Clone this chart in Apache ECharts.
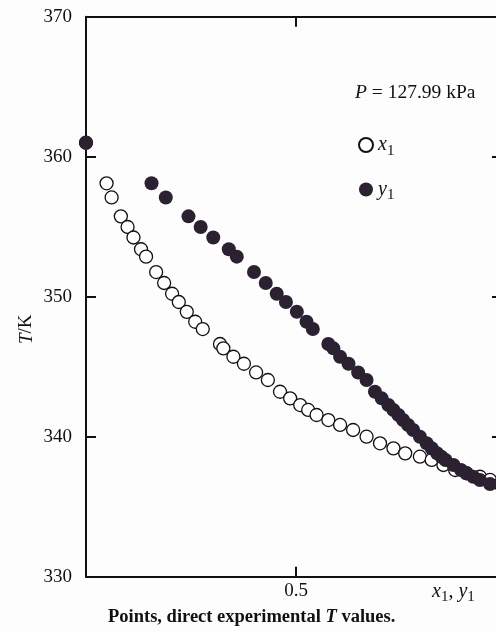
<!DOCTYPE html>
<html>
<head>
<meta charset="utf-8">
<script src="https://cdn.jsdelivr.net/npm/echarts@6/dist/echarts.min.js"></script>
<style>html,body{margin:0;padding:0;background:#fdfdfd;}#c{width:496px;height:631px;}</style>
</head>
<body>
<div id="c"></div>
<script>
// Temperatures (K) of each experiment; x1 liquid, y1 vapour mole fractions
const T = [361.0, 358.10, 357.09, 355.74, 354.98, 354.23, 353.39, 352.86, 351.76, 350.98, 350.21,
  349.62, 348.92, 348.21, 347.69, 346.62, 346.31, 345.71, 345.21, 344.59, 344.05,
  343.21, 342.74, 342.26, 341.91, 341.55, 341.19, 340.84, 340.48, 340.00, 339.53,
  339.17, 338.81, 338.57, 338.34, 337.98, 337.62, 337.39, 337.14, 336.91, 336.62];
const x1 = [0.0, 0.049, 0.061, 0.083, 0.099, 0.113, 0.131, 0.143, 0.167, 0.186, 0.205,
  0.221, 0.240, 0.260, 0.278, 0.319, 0.327, 0.351, 0.376, 0.405, 0.433,
  0.462, 0.486, 0.510, 0.529, 0.549, 0.577, 0.605, 0.636, 0.668, 0.700,
  0.732, 0.760, 0.795, 0.823, 0.851, 0.879, 0.906, 0.938, 0.962, 0.986];
const y1 = [0.0, 0.156, 0.190, 0.244, 0.273, 0.303, 0.340, 0.359, 0.400, 0.428, 0.454,
  0.476, 0.502, 0.525, 0.540, 0.577, 0.589, 0.605, 0.625, 0.648, 0.668,
  0.688, 0.704, 0.720, 0.732, 0.744, 0.755, 0.767, 0.779, 0.795, 0.811,
  0.823, 0.836, 0.846, 0.856, 0.875, 0.893, 0.906, 0.922, 0.938, 0.962];
const yTicks = [330, 340, 350, 360, 370];
const xTickLabels = {0.5: '0.5'};

const serif = '"Liberation Serif", "DejaVu Serif", serif';
const chart = echarts.init(document.getElementById('c'), null, {renderer: 'canvas'});
const axisLine = {show: true, onZero: false, lineStyle: {color: '#111', width: 2}};
const tickStyle = {show: true, inside: true, length: 10, lineStyle: {color: '#111', width: 2}};
chart.setOption({
  backgroundColor: '#fdfdfd',
  animation: false,
  grid: {left: 86, top: 16.7, width: 420, height: 560, containLabel: false, outerBoundsMode: 'none'},
  xAxis: [{
    type: 'value', min: 0, max: 1, interval: 0.5, position: 'bottom',
    axisLine: axisLine, axisTick: tickStyle, splitLine: {show: false},
    axisLabel: {margin: 5, color: '#111', fontFamily: serif, fontSize: 19,
      formatter: v => xTickLabels[v] || ''}
  }, {
    type: 'value', min: 0, max: 1, interval: 0.5, position: 'top',
    axisLine: axisLine, axisTick: tickStyle, splitLine: {show: false},
    axisLabel: {show: false}
  }],
  yAxis: [{
    type: 'value', min: yTicks[0], max: yTicks[yTicks.length - 1], interval: 10, position: 'left',
    axisLine: axisLine, axisTick: tickStyle, splitLine: {show: false},
    axisLabel: {margin: 14, color: '#111', fontFamily: serif, fontSize: 19}
  }, {
    type: 'value', min: yTicks[0], max: yTicks[yTicks.length - 1], interval: 10, position: 'right',
    axisLine: axisLine, axisTick: Object.assign({}, tickStyle, {length: 14}), splitLine: {show: false},
    axisLabel: {show: false}
  }],
  legend: {
    orient: 'vertical', left: 353, top: 130, itemGap: 21, itemWidth: 14, itemHeight: 14,
    icon: 'circle',
    data: ['x1', 'y1'],
    formatter: n => '{i|' + n[0] + '}{s|' + n.slice(1) + '}',
    textStyle: {
      rich: {
        i: {fontFamily: serif, fontStyle: 'italic', fontSize: 20, color: '#111'},
        s: {fontFamily: serif, fontSize: 15, color: '#111', padding: [12, 0, 0, 0]}
      }
    }
  },
  series: [{
    name: 'x1', type: 'scatter',
    data: x1.map((v, i) => [v, T[i]]),
    symbol: 'circle', symbolSize: 13,
    itemStyle: {color: '#ffffff', borderColor: '#111', borderWidth: 1.3, opacity: 1},
    z: 2
  }, {
    name: 'y1', type: 'scatter',
    data: y1.map((v, i) => [v, T[i]]),
    symbol: 'circle', symbolSize: 14,
    itemStyle: {color: '#2b2130', opacity: 1},
    z: 3
  }],
  graphic: [{
    type: 'text', left: 355, top: 83,
    style: {
      text: '{i|P} = 127.99 kPa',
      rich: {i: {fontFamily: serif, fontStyle: 'italic', fontSize: 19.5, fill: '#111'}},
      font: '19.5px ' + serif, fill: '#111'
    }
  }, {
    type: 'text', x: 17, y: 344, rotation: Math.PI / 2,
    style: {
      text: '{i|T}/K',
      rich: {i: {fontFamily: serif, fontStyle: 'italic', fontSize: 19, fill: '#111'}},
      font: '19px ' + serif, fill: '#111'
    }
  }, {
    type: 'text', left: 432, top: 582,
    style: {
      text: '{i|x}{s|1}, {i|y}{s|1}',
      rich: {
        i: {fontFamily: serif, fontStyle: 'italic', fontSize: 20, fill: '#111'},
        s: {fontFamily: serif, fontSize: 15, fill: '#111', padding: [10, 0, 0, 0]}
      },
      font: '20px ' + serif, fill: '#111'
    }
  }, {
    type: 'text', left: 108, top: 608,
    style: {
      text: 'Points, direct experimental {i|T} values.',
      rich: {i: {fontFamily: serif, fontStyle: 'italic', fontWeight: 'bold', fontSize: 18.5, fill: '#111'}},
      font: 'bold 18.5px ' + serif, fill: '#111'
    }
  }]
});
</script>
</body>
</html>
